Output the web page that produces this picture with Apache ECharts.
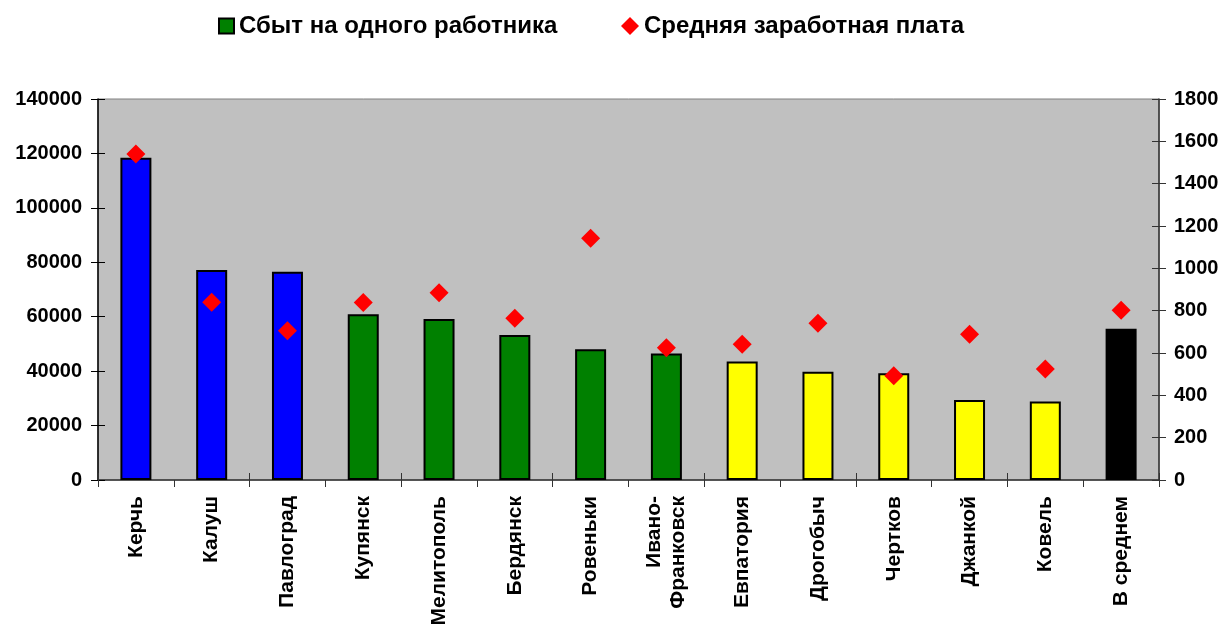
<!DOCTYPE html>
<html>
<head>
<meta charset="utf-8">
<script src="https://cdn.jsdelivr.net/npm/echarts@6/dist/echarts.min.js"></script>
<style>
  html, body { margin: 0; padding: 0; background: #fff; }
  #chart { width: 1225px; height: 625px; }
</style>
</head>
<body>
<div id="chart"></div>
<script>
// города и показатели
const cities = ['Керчь', 'Калуш', 'Павлоград', 'Купянск', 'Мелитополь', 'Бердянск', 'Ровеньки',
  'Ивано-\nФранковск', 'Евпатория', 'Дрогобыч', 'Чертков', 'Джанкой', 'Ковель', 'В среднем'];
const salesPerWorker = [118400, 77200, 76500, 60900, 59200, 53300, 48000, 46500, 43500, 39800, 39200, 29400, 28800, 55600];
const avgSalary = [1540, 840, 705, 838, 885, 764, 1142, 625, 641, 740, 493, 688, 524, 802];
const barColors = ['#0000ff', '#0000ff', '#0000ff', '#008000', '#008000', '#008000', '#008000',
  '#008000', '#ffff00', '#ffff00', '#ffff00', '#ffff00', '#ffff00', '#000000'];
const leftTicks = { min: 0, max: 140000, interval: 20000 };
const rightTicks = { min: 0, max: 1800, interval: 200 };

const font = 'Liberation Sans, Arial, sans-serif';
const diamond = 'path://M0,-1 L1,0 L0,1 L-1,0 Z';
const myChart = echarts.init(document.getElementById('chart'));

const labelStyle = { color: '#000', fontFamily: font, fontWeight: 'bold', fontSize: 20 };
const legendText = { color: '#000', fontFamily: font, fontWeight: 'bold', fontSize: 24 };

const option = {
  animation: false,
  textStyle: { fontFamily: font },
  legend: [
    {
      left: 218, top: 14, padding: 0,
      itemWidth: 15, itemHeight: 15, itemGap: 0,
      textStyle: legendText,
      data: [{ name: 'Сбыт на одного работника', icon: 'rect' }]
    },
    {
      left: 621, top: 14, padding: 0,
      itemWidth: 18, itemHeight: 18, itemGap: 0,
      textStyle: legendText,
      data: [{ name: 'Средняя заработная плата', icon: diamond }]
    }
  ],
  grid: {
    left: 98, right: 66, top: 99, bottom: 145,
    outerBoundsMode: 'none',
    show: true,
    backgroundColor: '#c0c0c0',
    borderColor: '#808080',
    borderWidth: 1
  },
  xAxis: [
    {
      type: 'category',
      data: cities,
      axisLine: { lineStyle: { color: '#333', width: 1.5 } },
      axisTick: { show: true, length: 7, lineStyle: { color: '#333' } },
      axisLabel: Object.assign({ rotate: 90, interval: 0, margin: 16, lineHeight: 24 }, labelStyle, { fontSize: 21 })
    },
    {
      // внутренние засечки (крестом)
      type: 'category',
      data: cities,
      position: 'bottom',
      axisLine: { show: false },
      axisTick: { show: true, inside: true, length: 7, lineStyle: { color: '#333' } },
      axisLabel: { show: false }
    }
  ],
  yAxis: [
    Object.assign({
      type: 'value',
      position: 'left',
      splitLine: { show: false },
      axisLine: { show: true, lineStyle: { color: '#000', width: 1.5 } },
      axisTick: { show: true, length: 7, lineStyle: { color: '#000' } },
      axisLabel: Object.assign({ margin: 16, formatter: v => String(v) }, labelStyle)
    }, leftTicks),
    Object.assign({
      type: 'value',
      position: 'right',
      splitLine: { show: false },
      axisLine: { show: true, lineStyle: { color: '#333', width: 1.5 } },
      axisTick: { show: true, length: 7, lineStyle: { color: '#333' } },
      axisLabel: Object.assign({ margin: 15, formatter: v => String(v) }, labelStyle)
    }, rightTicks),
    Object.assign({
      type: 'value',
      position: 'left',
      splitLine: { show: false },
      axisLine: { show: false },
      axisTick: { show: true, inside: true, length: 7, lineStyle: { color: '#000' } },
      axisLabel: { show: false }
    }, leftTicks),
    Object.assign({
      type: 'value',
      position: 'right',
      splitLine: { show: false },
      axisLine: { show: false },
      axisTick: { show: true, inside: true, length: 7, lineStyle: { color: '#333' } },
      axisLabel: { show: false }
    }, rightTicks)
  ],
  series: [
    {
      name: 'Сбыт на одного работника',
      type: 'bar',
      barWidth: 31,
      yAxisIndex: 0,
      itemStyle: { color: '#008000', borderColor: '#000', borderWidth: 2 },
      data: salesPerWorker.map((v, i) => ({ value: v, itemStyle: { color: barColors[i] } }))
    },
    {
      name: 'Средняя заработная плата',
      type: 'scatter',
      yAxisIndex: 1,
      symbol: diamond,
      symbolSize: 19,
      itemStyle: { color: '#ff0000', opacity: 1 },
      z: 5,
      data: avgSalary
    }
  ]
};

myChart.setOption(option);
</script>
</body>
</html>
